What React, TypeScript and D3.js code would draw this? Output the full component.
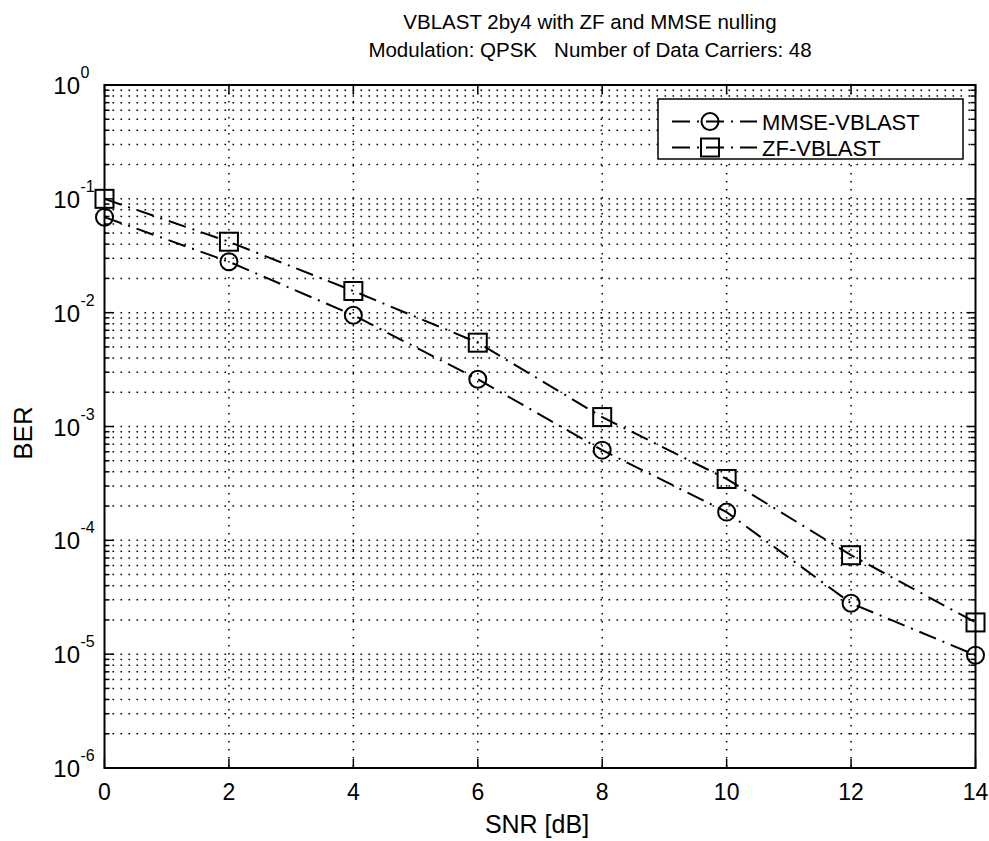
import React from "react";
import * as d3 from "d3";

const snr = [0, 2, 4, 6, 8, 10, 12, 14];
const mmseBer = [0.069, 0.028, 0.0095, 0.0026, 0.00062, 0.000177, 0.000028, 0.0000098];
const zfBer = [0.1, 0.042, 0.0155, 0.00545, 0.00121, 0.000346, 0.000074, 0.000019];
const xTicks = [0, 2, 4, 6, 8, 10, 12, 14];
const yDecades = [0, -1, -2, -3, -4, -5, -6];
const seriesNames = ["MMSE-VBLAST", "ZF-VBLAST"];
const titleLines = ["VBLAST 2by4 with ZF and MMSE nulling", "Modulation: QPSK   Number of Data Carriers: 48"];

const W = 989, H = 841;
const L = 104.5, R = 975.5, T = 85, B = 768;
const FONT = "'Liberation Sans', Arial, Helvetica, sans-serif";

export default function App() {
  const x = d3.scaleLinear().domain([0, 14]).range([L, R]);
  const y = d3.scaleLog().domain([1e-6, 1]).range([B, T]);

  const minorVals: number[] = [];
  for (let e = -6; e < 0; e++) {
    for (let m = 2; m <= 9; m++) minorVals.push(m * Math.pow(10, e));
  }
  const majorVals = yDecades.map((e) => Math.pow(10, e));

  const line = d3
    .line<number>()
    .x((_, i) => x(snr[i]))
    .y((d) => y(d));

  const dashDot = "18,7,2,7";
  const grid = "1.6,6.4";

  const circle = (cx: number, cy: number, k: string) => (
    <circle key={k} cx={cx} cy={cy} r={8.5} fill="none" stroke="#000" strokeWidth={2} />
  );
  const square = (cx: number, cy: number, k: string) => (
    <rect key={k} x={cx - 9} y={cy - 9} width={18} height={18} fill="none" stroke="#000" strokeWidth={2} />
  );

  const lg = { x0: 658, y0: 99, x1: 963, y1: 159 };
  const rows = [121.5, 147.5];

  return (
    <svg width={W} height={H} style={{ display: "block", position: "absolute", left: 0, top: 0 }} fontFamily={FONT}>
      <rect x={0} y={0} width={W} height={H} fill="#fff" />
      {/* grid */}
      <g stroke="#000" strokeWidth={1.5} strokeDasharray={grid}>
        {[...minorVals, ...majorVals.slice(1, -1)].map((v, i) => (
          <line key={"h" + i} x1={L} x2={R} y1={y(v)} y2={y(v)} />
        ))}
        {xTicks.slice(1, -1).map((v) => (
          <line key={"v" + v} x1={x(v)} x2={x(v)} y1={T} y2={B} />
        ))}
      </g>
      {/* ticks */}
      <g stroke="#000" strokeWidth={1.5}>
        {xTicks.map((v) => (
          <g key={"xt" + v}>
            <line x1={x(v)} x2={x(v)} y1={B} y2={B - 9} />
            <line x1={x(v)} x2={x(v)} y1={T} y2={T + 9} />
          </g>
        ))}
        {majorVals.map((v, i) => (
          <g key={"yt" + i}>
            <line x1={L} x2={L + 9} y1={y(v)} y2={y(v)} />
            <line x1={R} x2={R - 9} y1={y(v)} y2={y(v)} />
          </g>
        ))}
        {minorVals.map((v, i) => (
          <g key={"ym" + i}>
            <line x1={L} x2={L + 5} y1={y(v)} y2={y(v)} />
            <line x1={R} x2={R - 5} y1={y(v)} y2={y(v)} />
          </g>
        ))}
      </g>
      {/* lines */}
      <path d={line(mmseBer) || ""} fill="none" stroke="#000" strokeWidth={2} strokeDasharray={dashDot} />
      <path d={line(zfBer) || ""} fill="none" stroke="#000" strokeWidth={2} strokeDasharray={dashDot} />
      {mmseBer.map((v, i) => circle(x(snr[i]), y(v), "c" + i))}
      {zfBer.map((v, i) => square(x(snr[i]), y(v), "s" + i))}
      {/* axes box */}
      <rect x={L} y={T} width={R - L} height={B - T} fill="none" stroke="#000" strokeWidth={2} />
      {/* legend */}
      <rect x={lg.x0} y={lg.y0} width={lg.x1 - lg.x0} height={lg.y1 - lg.y0} fill="#fff" stroke="#000" strokeWidth={1.5} />
      {seriesNames.map((name, i) => (
        <g key={name}>
          <line x1={672} x2={757} y1={rows[i]} y2={rows[i]} stroke="#000" strokeWidth={2} strokeDasharray={dashDot} />
          {i === 0 ? circle(710, rows[i], "lc") : square(710, rows[i], "ls")}
          <text x={762} y={rows[i] + 8} fontSize={22} fill="#000">
            {name}
          </text>
        </g>
      ))}
      {/* x tick labels */}
      {xTicks.map((v) => (
        <text key={"xl" + v} x={x(v)} y={800} fontSize={23} textAnchor="middle" fill="#000">
          {v}
        </text>
      ))}
      {/* y tick labels */}
      {yDecades.map((e) => (
        <g key={"yl" + e}>
          <text x={80} y={y(Math.pow(10, e)) + 9} fontSize={24} textAnchor="end" fill="#000">
            10
          </text>
          <text x={80.5} y={y(Math.pow(10, e)) - 7} fontSize={16} textAnchor="start" fill="#000">
            {e}
          </text>
        </g>
      ))}
      {/* axis labels */}
      <text x={537} y={833} fontSize={25} textAnchor="middle" fill="#000">
        SNR [dB]
      </text>
      <text transform={`translate(32,${433}) rotate(-90)`} fontSize={26} textAnchor="middle" fill="#000">
        BER
      </text>
      {/* title */}
      {titleLines.map((t, i) => (
        <text key={t} x={590} y={29 + i * 28} fontSize={20.5} textAnchor="middle" fill="#000" style={{ whiteSpace: "pre" }}>
          {t}
        </text>
      ))}
    </svg>
  );
}
